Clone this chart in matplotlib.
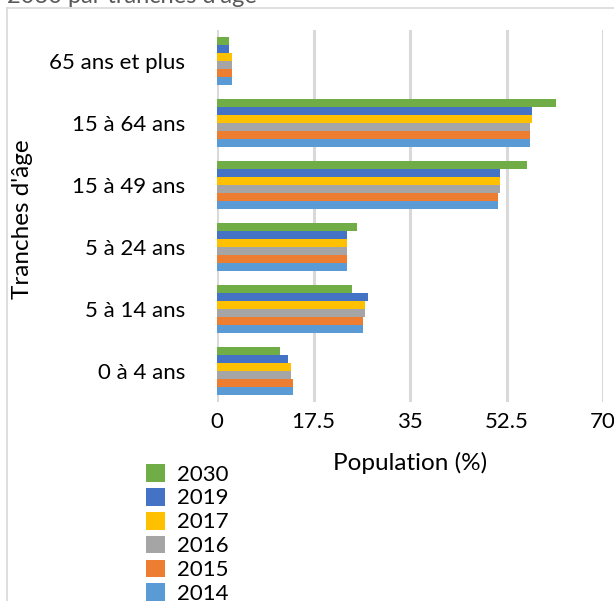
import numpy as np
import matplotlib
matplotlib.use("Agg")
import matplotlib.pyplot as plt
from matplotlib.lines import Line2D

# tranches d'age, du bas vers le haut
categories = ["0 à 4 ans", "5 à 14 ans", "5 à 24 ans", "15 à 49 ans", "15 à 64 ans", "65 ans et plus"]
years = ["2014", "2015", "2016", "2017", "2019", "2030"]
colors = ["#5B9BD5", "#ED7D31", "#A5A5A5", "#FFC000", "#4472C4", "#70AD47"]

v2014 = [13.7, 26.4, 23.5, 51.0, 56.8, 2.7]
v2015 = [13.7, 26.4, 23.5, 51.0, 56.8, 2.7]
v2016 = [13.4, 26.8, 23.5, 51.3, 56.8, 2.7]
v2017 = [13.4, 26.8, 23.5, 51.3, 57.2, 2.7]
v2019 = [12.8, 27.3, 23.5, 51.3, 57.2, 2.2]
v2030 = [11.4, 24.4, 25.3, 56.2, 61.5, 2.2]
series = [v2014, v2015, v2016, v2017, v2019, v2030]

xticks = [0, 17.5, 35, 52.5, 70]
xticklabels = ["0", "17.5", "35", "52.5", "70"]

plt.rcParams['font.family'] = ['Lato', 'DejaVu Sans']

fig = plt.figure(figsize=(6.14, 6.01), dpi=100)
ax = fig.add_axes([217/614, 1-402/601, (603-217)/614, (402-30)/601])

y = np.arange(len(categories))
h = 0.13
handles = []
for k, (vals, c, yr) in enumerate(zip(series, colors, years)):
    b = ax.barh(y + (k - 2.5)*h, vals, height=h, color=c, label=yr, zorder=3)
    handles.append(b)

ax.set_xlim(0, 70)
ax.set_ylim(-0.5, 5.5)
ax.set_xticks(xticks)
ax.set_xticklabels(xticklabels, fontsize=16)
ax.set_yticks(y)
ax.set_yticklabels(categories, fontsize=16)
ax.tick_params(axis='x', length=0, pad=7)
ax.tick_params(axis='y', length=0, pad=23)
for s in ax.spines.values():
    s.set_visible(False)
ax.grid(axis='x', color="#d9d9d9", linewidth=2.2, zorder=0)
ax.axvline(0, color="#d9d9d9", linewidth=2.2, zorder=1)

fig.text(410/614, 1-463/601, "Population (%)", fontsize=17.5, ha='center', va='center')
fig.text(23/614, 1-219/601, "Tranches d'âge", fontsize=17.5, ha='center', va='center', rotation=90)

# titre coupe en haut
fig.text(7/614, 1-3/601, "2030 par tranches d'âge", fontsize=17, color="#595959", ha='left', va='baseline')

# cadre
fig.add_artist(Line2D([7/614, 7/614], [0, 1-8/601], color="#d9d9d9", lw=1.2))
fig.add_artist(Line2D([7/614, 1], [1-8/601, 1-8/601], color="#d9d9d9", lw=1.2))

leg = fig.legend(handles[::-1], years[::-1], loc='upper left',
                 bbox_to_anchor=(146/614, 1-464/601), frameon=False,
                 fontsize=16, handlelength=0.85, handleheight=0.85,
                 handletextpad=0.55, labelspacing=0.15, borderpad=0,
                 borderaxespad=0)

fig.savefig("out.png", dpi=100)
